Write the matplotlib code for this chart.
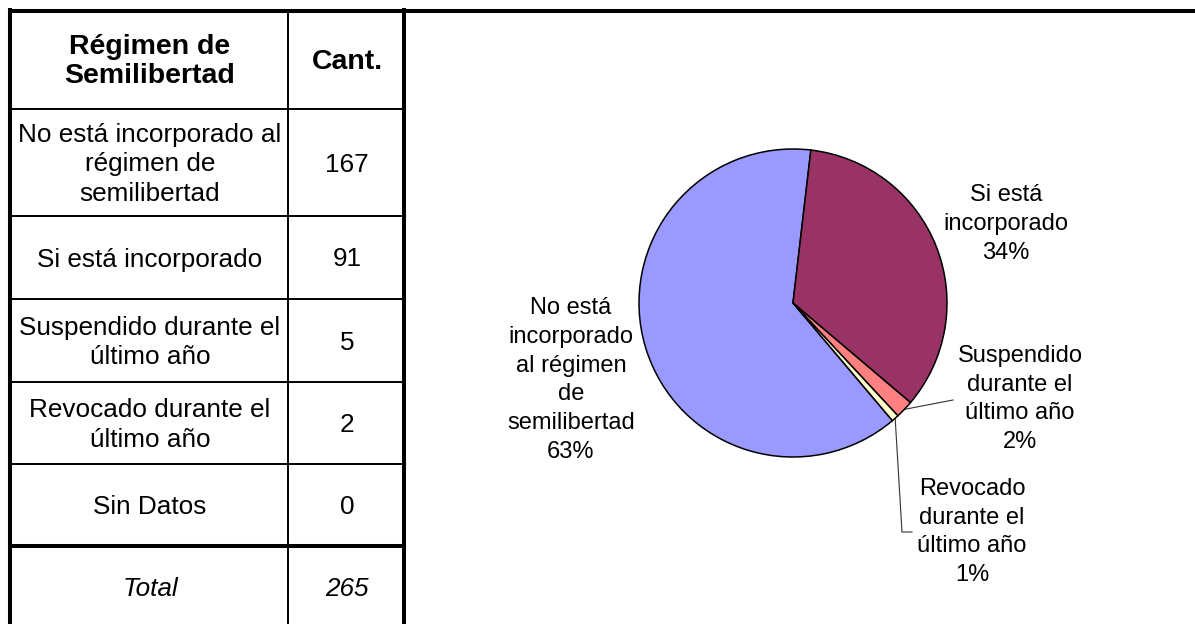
import numpy as np
import matplotlib
matplotlib.use("Agg")
import matplotlib.pyplot as plt

plt.rcParams['font.family'] = ['Liberation Sans', 'DejaVu Sans']

# data
categories = ["No está incorporado al\nrégimen de\nsemilibertad",
              "Si está incorporado",
              "Suspendido durante el\núltimo año",
              "Revocado durante el\núltimo año",
              "Sin Datos"]
pie_labels = ["No está\nincorporado\nal régimen\nde\nsemilibertad",
              "Si está\nincorporado",
              "Suspendido\ndurante el\núltimo año",
              "Revocado\ndurante el\núltimo año",
              "Sin Datos"]
counts = [167, 91, 5, 2, 0]
colors = ["#9999FF", "#993366", "#FF8080", "#FFFFCC", "#CCFFFF"]
header = ["Régimen de\nSemilibertad", "Cant."]

W, H = 1195, 624
fig = plt.figure(figsize=(W / 100, H / 100), dpi=100)
ax = fig.add_axes([0, 0, 1, 1])
ax.set_xlim(0, W)
ax.set_ylim(H, 0)
ax.axis("off")

# ---- table ----
fs = 18.8
col_x = [10, 288, 404]
row_y = [10.5, 109, 216, 299, 382, 464, 546, 640]
thick = 2.9
thin = 1.4

ax.plot([8, W], [row_y[0], row_y[0]], color="black", lw=thick, solid_capstyle="butt")
ax.plot([col_x[0], col_x[0]], [8, H], color="black", lw=thick, solid_capstyle="butt")
ax.plot([col_x[2], col_x[2]], [8, H], color="black", lw=thick, solid_capstyle="butt")
ax.plot([col_x[1], col_x[1]], [row_y[0], H], color="black", lw=thin)
for i, y in enumerate(row_y[1:-1]):
    lw = thick if i == len(row_y) - 3 else thin
    ax.plot([col_x[0], col_x[2]], [y, y], color="black", lw=lw)

c1 = (col_x[0] + col_x[1]) / 2 + 1
c2 = (col_x[1] + col_x[2]) / 2 + 1
ax.text(c1, (row_y[0] + row_y[1]) / 2 + 2, header[0], ha="center", va="center",
        fontsize=20.5, fontweight="bold", linespacing=1.13)
ax.text(c2, (row_y[0] + row_y[1]) / 2 + 2, header[1], ha="center", va="center",
        fontsize=20.5, fontweight="bold")
for i, (cat, n) in enumerate(zip(categories, counts)):
    yc = (row_y[i + 1] + row_y[i + 2]) / 2 + 2
    ax.text(c1, yc, cat, ha="center", va="center", fontsize=fs, linespacing=1.29)
    ax.text(c2, yc, str(n), ha="center", va="center", fontsize=fs)
total = sum(counts)
ax.text(c1, 589, "Total", ha="center", va="center", fontsize=fs, style="italic")
ax.text(c2, 589, str(total), ha="center", va="center", fontsize=fs, style="italic")

# ---- pie ----
cx, cy, r = 793, 303, 154
pax = fig.add_axes([(cx - r) / W, (H - cy - r) / H, 2 * r / W, 2 * r / H])
vals = [v for v in counts if v > 0]
cols = [c for v, c in zip(counts, colors) if v > 0]
wedges, _ = pax.pie(vals, colors=cols, startangle=-49.8, counterclock=False,
                    wedgeprops=dict(edgecolor="black", linewidth=1.1))
pax.set_xlim(-1, 1)
pax.set_ylim(-1, 1)
pax.set_aspect("equal")
pax.axis("off")

lfs = 17
label_pos = [(571, 380), (1006, 224), (1020, 399), (972, 532)]
for i, (v, lab) in enumerate(zip(vals, pie_labels)):
    pct = f"{v / total:.0%}"
    x, y = label_pos[i]
    ax.text(x, y, lab + "\n" + pct, ha="center", va="center", fontsize=lfs,
            linespacing=1.4)

# leader lines for the small slices
for i, path in [(2, "h"), (3, "v")]:
    w = wedges[i]
    mid = np.deg2rad((w.theta1 + w.theta2) / 2)
    sx = cx + r * np.cos(mid)
    sy = cy - r * np.sin(mid)
    if path == "h":
        ax.plot([sx, 953], [sy, 400], color="#333333", lw=0.8)
    else:
        ax.plot([sx, 902, 912], [sy, 532, 532], color="#333333", lw=0.8)

fig.savefig("out.png", dpi=100, facecolor="white")
